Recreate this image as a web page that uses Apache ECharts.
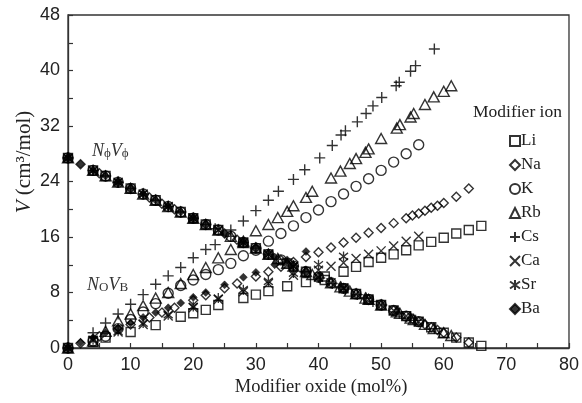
<!DOCTYPE html>
<html><head><meta charset="utf-8">
<script src="https://cdn.jsdelivr.net/npm/echarts@6/dist/echarts.min.js"></script>
<style>html,body{margin:0;padding:0;background:#fff}#c{width:582px;height:403px}</style>
</head><body><div id="c"></div>
<script>
// ---- data ----
const ions = ['Li','Na','K','Rb','Cs','Ca','Sr','Ba'];
const xTicks = [0,10,20,30,40,50,60,70,80];
const yTicks = [0,8,16,24,32,40,48];

const liX = [0,4,6,10,14,18,20,22,24,28,30,32,35,38,41,44,46,48,50,52,54,56,58,60,62,64,66];
const liUp = [0,0.9,1.5,2.3,3.3,4.5,5.0,5.5,6.2,7.2,7.7,8.2,8.9,9.5,10.3,11.0,11.7,12.4,13.0,13.5,14.1,14.8,15.3,15.9,16.5,17.0,17.6];
const liDown = [27.4,25.6,24.8,23.0,21.3,19.6,18.7,17.8,17.0,15.2,14.4,13.5,12.2,11.0,9.8,8.6,7.8,7.0,6.2,5.4,4.6,3.8,3.0,2.2,1.5,0.8,0.3];

const naX = [0,2,5,8,10,13,15,17,20,22,25,27,30,32,34,36,38,40,42,44,46,48,50,52,54,55,56,57,58,59,60,62,64];
const naUp = [0,0.7,1.7,2.7,3.4,4.4,5.1,5.8,6.9,7.6,8.6,9.3,10.3,11.0,11.7,12.4,13.1,13.8,14.5,15.2,15.9,16.6,17.3,18.0,18.7,19.1,19.4,19.8,20.2,20.5,20.9,21.8,23.0];
const naDown = [27.4,26.5,25.2,23.9,23.0,21.7,20.8,20.0,18.7,17.8,16.5,15.6,14.4,13.5,12.7,11.8,11.0,10.2,9.4,8.6,7.8,7.0,6.2,5.4,4.6,4.2,3.8,3.4,3.0,2.6,2.2,1.5,0.8];

const kX = [0,4,6,8,10,12,14,16,18,20,22,24,26,28,30,32,34,36,38,40,42,44,46,48,50,52,54,56];
const kUp = [0,1.0,1.7,2.8,4.1,5.2,6.4,7.9,9.0,9.8,10.6,11.3,12.2,13.3,14.1,15.4,16.5,17.6,18.8,19.9,21.1,22.2,23.3,24.4,25.6,26.8,28.0,29.3];
const kDown = [27.4,25.6,24.8,23.9,23.0,22.2,21.3,20.4,19.6,18.7,17.8,17.0,16.1,15.2,14.4,13.5,12.7,11.8,11.0,10.2,9.4,8.6,7.8,7.0,6.2,5.4,4.6,3.8];

const rbX = [0,4,6,8,10,12,14,16,18,20,22,24,26,28,30,32,33.5,35,36,38,39,42,43.5,45,46,47.5,48,50,52.5,53,54.7,55.2,57,58.4,60,61.2];
const rbUp = [0,1.0,2.4,3.9,4.9,6.1,7.2,8.0,9.3,10.6,11.6,13.0,14.2,15.4,16.9,17.8,18.8,19.7,20.5,21.7,22.6,24.5,25.5,26.6,27.3,28.2,28.7,30.2,31.7,32.2,33.3,33.8,35.1,36.2,37.0,37.8];
const rbDown = [27.4,25.6,24.8,23.9,23.0,22.2,21.3,20.4,19.6,18.7,17.8,17.0,16.1,15.2,14.4,13.5,12.9,12.2,11.8,11.0,10.6,9.4,8.8,8.2,7.8,7.2,7.0,6.2,5.2,5.0,4.3,4.1,3.4,2.8,2.2,1.8];

const csX = [0,4,6,8,10,12,14,16,18,20,22,23.5,26,28,30,32,33.6,36,37.8,40.2,42.2,43.6,44.3,46.2,47.6,48.7,50.1,52.4,52.9,54.7,55.5,58.5];
const csUp = [0,2.2,3.6,4.9,6.3,7.7,9.2,10.4,11.6,13.0,14.2,14.9,17.0,18.3,19.8,21.3,22.6,24.3,25.7,27.4,29.2,30.7,31.3,32.6,33.8,34.9,36.1,37.8,38.3,39.9,40.7,43.1];
const csDown = [27.4,25.6,24.8,23.9,23.0,22.2,21.3,20.4,19.6,18.7,17.8,17.2,16.1,15.2,14.4,13.5,12.8,11.8,11.0,10.1,9.3,8.8,8.5,7.7,7.2,6.7,6.2,5.2,5.0,4.3,4.0,2.8];

const caX = [0,4,8,12,16,20,24,28,32,36,40,42,44,46,48,50,52,54,56];
const caUp = [0,1.1,2.3,3.4,4.6,5.8,7.0,8.1,9.3,10.5,11.2,11.8,12.3,12.9,13.5,14.0,14.7,15.4,16.1];
const caDown = [27.4,25.6,23.9,22.2,20.4,18.7,17.0,15.2,13.5,11.8,10.2,9.4,8.6,7.8,7.0,6.2,5.4,4.6,3.8];

const srX = [0,4,8,12,16,20,24,28,32,36,40,44];
const srUp = [0,1.2,2.4,3.6,4.8,6.0,7.2,8.4,9.6,10.8,12.0,13.2];
const srDown = [27.4,25.6,23.9,22.2,20.4,18.7,17.0,15.2,13.5,11.8,10.2,8.6];

const baX = [0,2,4,6,8,10,12,14,16,18,20,22,25,28,30,33,35,38];
const baUp = [0,0.8,1.5,2.2,2.9,3.6,4.4,5.1,5.8,6.5,7.3,8.0,9.1,10.2,10.9,12.0,12.7,13.9];
const baDown = [27.4,26.5,25.6,24.8,23.9,23.0,22.2,21.3,20.4,19.6,18.7,17.8,16.5,15.2,14.4,13.1,12.2,11.0];

// ---- build ----
const sets = {
  Li:[liX,liUp,liDown], Na:[naX,naUp,naDown], K:[kX,kUp,kDown], Rb:[rbX,rbUp,rbDown],
  Cs:[csX,csUp,csDown], Ca:[caX,caUp,caDown], Sr:[srX,srUp,srDown], Ba:[baX,baUp,baDown]
};
const INK = '#000';
const symbols = {
  Li:{symbol:'rect', size:9},
  Na:{symbol:'diamond', size:[9,9]},
  K:{symbol:'circle', size:10},
  Rb:{symbol:'triangle', size:[11,10]},
  Cs:{symbol:'path://M5,0L5,10M0,5L10,5', size:11},
  Ca:{symbol:'path://M0,0L10,10M0,10L10,0', size:9},
  Sr:{symbol:'path://M5,0L5,10M0,1.5L10,8.5M0,8.5L10,1.5', size:[9,10]},
  Ba:{symbol:'diamond', size:[8,8], filled:true}
};
const series = ions.map(name => {
  const [xs, up, down] = sets[name];
  const data = [];
  xs.forEach((x,i) => { data.push([x, up[i]]); data.push([x, down[i]]); });
  const s = symbols[name];
  return {
    name, type:'scatter', data, symbol:s.symbol, symbolSize:s.size,
    itemStyle:{
      color: s.filled ? INK : 'rgba(255,255,255,0)',
      borderColor: INK, borderWidth: s.filled ? 0.5 : 1.4
    },
    emphasis:{disabled:true}, animation:false
  };
});

const chart = echarts.init(document.getElementById('c'), null, {renderer:'canvas'});
const serif = 'Liberation Serif';
const sans = 'Arial, Liberation Sans, sans-serif';
const axisCommon = {
  axisLine:{show:true, lineStyle:{color:'#333', width:1.3}},
  axisTick:{show:true, inside:true, length:5, lineStyle:{color:'#333', width:1.2}},
  minorTick:{show:true, splitNumber:2, length:5, lineStyle:{color:'#333', width:1.2}},
  splitLine:{show:false},
  axisLabel:{color:'#222', fontFamily:sans, fontSize:18}
};
chart.setOption({
  backgroundColor:'#fff',
  animation:false,
  textStyle:{fontFamily:sans},
  grid:{left:68, right:7, top:15, bottom:55, show:true, borderColor:'#333', borderWidth:1.3, backgroundColor:'transparent'},
  xAxis:Object.assign({type:'value', min:xTicks[0], max:xTicks[xTicks.length-1], interval:10}, axisCommon,
    {axisLabel:Object.assign({}, axisCommon.axisLabel, {margin:8})}),
  yAxis:Object.assign({type:'value', min:yTicks[0], max:yTicks[yTicks.length-1], interval:8}, axisCommon,
    {axisLabel:Object.assign({}, axisCommon.axisLabel, {margin:8})}),
  legend:{
    orient:'vertical', left:504, top:127, itemWidth:10, itemHeight:10, itemGap:6,
    data:ions,
    textStyle:{fontFamily:serif, fontSize:17, color:'#222', lineHeight:18, padding:[0,0,0,-4]}
  },
  graphic:[
    {type:'text', left:473, top:103, style:{text:'Modifier ion', fontFamily:serif, fontSize:17.5, fill:'#222'}},
    {type:'text', x:24, y:162, rotation:Math.PI/2, style:{
      text:'{i|V} (cm³/mol)', fontFamily:serif, fontSize:21, fill:'#222', align:'center', verticalAlign:'middle',
      rich:{i:{fontStyle:'italic', fontFamily:serif, fontSize:21, fill:'#222'}}}},
    {type:'text', x:321, y:387, style:{text:'Modifier oxide (mol%)', fontFamily:serif, fontSize:18.5, fill:'#222', align:'center', verticalAlign:'middle'}},
    {type:'text', x:92, y:139, style:{
      text:'{i|N}{s|ϕ}{i|V}{s|ϕ}', fill:'#333',
      rich:{i:{fontStyle:'italic', fontFamily:serif, fontSize:18, fill:'#333', lineHeight:21, verticalAlign:'bottom'},
            s:{fontFamily:serif, fontSize:13, fill:'#333', lineHeight:21, verticalAlign:'bottom', padding:[6,0,0,0]}}}},
    {type:'text', x:87, y:273, style:{
      text:'{i|N}{s|O}{i|V}{s|B}', fill:'#333',
      rich:{i:{fontStyle:'italic', fontFamily:serif, fontSize:18, fill:'#333', lineHeight:21, verticalAlign:'bottom'},
            s:{fontFamily:serif, fontSize:13, fill:'#333', lineHeight:21, verticalAlign:'bottom', padding:[6,0,0,0]}}}}
  ],
  series
});
</script></body></html>
